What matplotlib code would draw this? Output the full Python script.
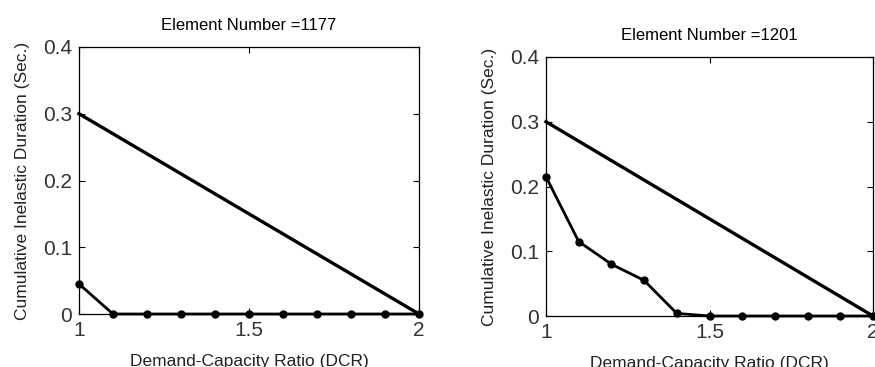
import matplotlib
matplotlib.use('Agg')
import matplotlib.pyplot as plt

dcr = [1.0, 1.1, 1.2, 1.3, 1.4, 1.5, 1.6, 1.7, 1.8, 1.9, 2.0]
limit_x = [1.0, 2.0]
limit_y = [0.3, 0.0]

titles = ['Element Number =1177', 'Element Number =1201']
dur_1177 = [0.045, 0.0, 0.0, 0.0, 0.0, 0.0, 0.0, 0.0, 0.0, 0.0, 0.0]
dur_1201 = [0.215, 0.115, 0.08, 0.055, 0.004, 0.0, 0.0, 0.0, 0.0, 0.0, 0.0]

x_ticks = [1, 1.5, 2]
x_ticklabels = ['1', '1.5', '2']
y_ticks = [0, 0.1, 0.2, 0.3, 0.4]
y_ticklabels = ['0', '0.1', '0.2', '0.3', '0.4']

plt.rcParams['font.family'] = ['Liberation Sans', 'DejaVu Sans']

fig = plt.figure(figsize=(8.75, 3.67), dpi=100)
boxes = [[79/875, 1 - 314/367, 340/875, 267/367],
         [546/875, 1 - 316/367, 327/875, 259/367]]

for box, title, dur in zip(boxes, titles, [dur_1177, dur_1201]):
    ax = fig.add_axes(box)
    ax.plot(limit_x, limit_y, color='black', linewidth=2.4, clip_on=False)
    ax.plot(dcr, dur, color='black', linewidth=2, marker='o', markersize=5,
            clip_on=False)
    ax.set_xlim(1, 2)
    ax.set_ylim(0, 0.4)
    ax.set_xticks(x_ticks)
    ax.set_xticklabels(x_ticklabels)
    ax.set_yticks(y_ticks)
    ax.set_yticklabels(y_ticklabels)
    ax.tick_params(direction='in', top=True, right=True, labelsize=15,
                   labelcolor='#333333', length=4, width=0.8, pad=5)
    for s in ax.spines.values():
        s.set_linewidth(0.9)
    ax.set_title(title, fontsize=12, pad=12)
    ax.set_ylabel('Cumulative Inelastic Duration (Sec.)', fontsize=12.5,
                  labelpad=9, color='#222222')
    ax.set_xlabel('Demand-Capacity Ratio (DCR)', fontsize=12.5, labelpad=10,
                  color='#222222')

fig.savefig('out.png', dpi=100)
